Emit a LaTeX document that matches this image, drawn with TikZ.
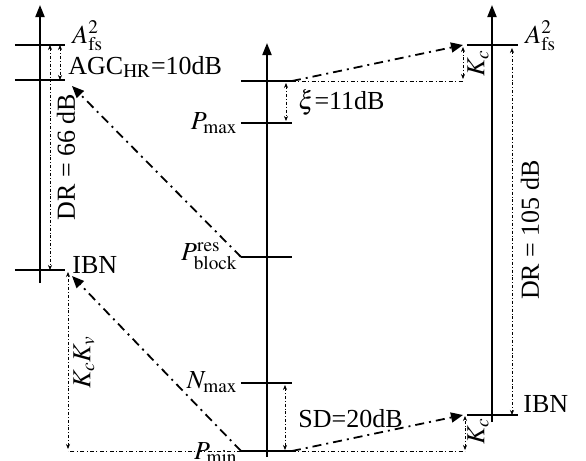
\documentclass[tikz,border=0pt]{standalone}
\usepackage{mathptmx}
\usepackage{fontspec}
\setmainfont{Liberation Serif}
\usetikzlibrary{arrows.meta}

\begin{document}
\begin{tikzpicture}[x=0.5pt, y=-0.5pt,
  axis/.style={line width=1pt, -{Triangle[length=6pt, width=4.5pt]}},
  tick/.style={line width=1pt},
  dim/.style={line width=0.35pt, dash pattern=on 1.5pt off 1pt on 0.4pt off 1pt,
              {Stealth[length=2.5pt, width=2pt]}-{Stealth[length=2.5pt, width=2pt]}},
  guide/.style={line width=0.35pt, dash pattern=on 2pt off 1.2pt on 0.5pt off 1.2pt},
  map/.style={line width=0.9pt, dash pattern=on 4.5pt off 2.5pt on 1pt off 2.5pt,
              -{Triangle[length=6pt, width=5pt]}},
  lbl/.style={font=\fontsize{13}{15}\selectfont, inner sep=0pt}
]
\useasboundingbox (0,0) rectangle (586,461);

% left axis
\coordinate (lbot) at (40,283);   \coordinate (ltop) at (40,5);
\coordinate (lfs-w) at (15,45);   \coordinate (lfs-e) at (65,45);
\coordinate (lagc-w) at (15,80);  \coordinate (lagc-e) at (65,80);
\coordinate (libn-w) at (15,270); \coordinate (libn-e) at (65,270);
% middle axis
\coordinate (mbot) at (267,457);  \coordinate (mtop) at (267,43);
\coordinate (mhi-w) at (241,81);  \coordinate (mhi-e) at (292,81);
\coordinate (pmax-w) at (241,123); \coordinate (pmax-e) at (292,123);
\coordinate (pblk-w) at (241,257); \coordinate (pblk-e) at (292,257);
\coordinate (nmax-w) at (241,383); \coordinate (nmax-e) at (292,383);
\coordinate (pmin-w) at (241,451); \coordinate (pmin-e) at (292,451);
% right axis
\coordinate (rbot) at (492,422);  \coordinate (rtop) at (492,5);
\coordinate (rfs-w) at (467,45);  \coordinate (rfs-e) at (518,45);
\coordinate (ribn-w) at (467,415); \coordinate (ribn-e) at (518,415);
% guide corners
\coordinate (kv) at (68,451);
\coordinate (kc1) at (463,81);
\coordinate (kc2) at (465,451);

\draw[axis] (lbot) -- (ltop);
\draw[axis] (mbot) -- (mtop);
\draw[axis] (rbot) -- (rtop);
\draw[tick] (lfs-w) -- (lfs-e);
\draw[tick] (lagc-w) -- (lagc-e);
\draw[tick] (libn-w) -- (libn-e);
\draw[tick] (mhi-w) -- (mhi-e);
\draw[tick] (pmax-w) -- (pmax-e);
\draw[tick] (pblk-w) -- (pblk-e);
\draw[tick] (nmax-w) -- (nmax-e);
\draw[tick] (pmin-w) -- (pmin-e);
\draw[tick] (rfs-w) -- (rfs-e);
\draw[tick] (ribn-w) -- (ribn-e);

\node[lbl, anchor=base west] (afsl) at (72,43) {$A_{\mathrm{fs}}^2$};
\node[lbl, anchor=base west] (agc) at (68,74) {AGC$_{\mathrm{HR}}$=10dB};
\node[lbl, rotate=90] (dr66) at (66,157) {DR = 66 dB};
\node[lbl, anchor=base west] (ibnl) at (72,273) {IBN};
\node[lbl, rotate=90] (kckv) at (84,362) {$K_cK_v$};
\node[lbl, anchor=east] (pmax) at (238,123) {$P_{\max}$};
\node[lbl, anchor=east] (pblock) at (238,256) {$P^{\mathrm{res}}_{\mathrm{block}}$};
\node[lbl, anchor=east] (nmax) at (238,382) {$N_{\max}$};
\node[lbl, anchor=east] (pmin) at (238,453) {$P_{\min}$};
\node[lbl, anchor=base west] (xi) at (298,109) {$\xi$=11dB};
\node[lbl, anchor=base west] (sd) at (298,427) {SD=20dB};
\node[lbl, rotate=90] (kctop) at (478,63) {$K_c$};
\node[lbl, rotate=90] (kcbot) at (478,431) {$K_c$};
\node[lbl, rotate=90] (dr105) at (530,230) {DR = 105 dB};
\node[lbl, anchor=base west] (afsr) at (525,43) {$A_{\mathrm{fs}}^2$};
\node[lbl, anchor=base west] (ibnr) at (523,412) {IBN};

% spans
\draw[dim] ([xshift=-2.5pt]lfs-e) -- ([xshift=-2.5pt]lagc-e);
\draw[dim] ([xshift=-7.5pt]lfs-e) -- ([xshift=-7.5pt]libn-e);
\draw[dim, shorten <=1pt, shorten >=1pt] ([xshift=-3pt]mhi-e) -- ([xshift=-3pt]pmax-e);
\draw[dim, shorten <=1pt, shorten >=0.5pt] ([xshift=-3.5pt]nmax-e) -- ([xshift=-3.5pt]pmin-e);
\draw[dim, shorten <=1pt, shorten >=1pt] (kv) -- (kv |- libn-e);
\draw[dim, shorten <=1pt, shorten >=1pt] (kc1) -- (kc1 |- rfs-w);
\draw[dim, shorten <=0.5pt, shorten >=0.5pt] (kc2) -- (kc2 |- ribn-w);
\draw[dim, shorten <=1.5pt] ([xshift=-3pt]rfs-e) -- ([xshift=-3pt]ribn-e);

% guides
\draw[guide] (mhi-e) -- (kc1);
\draw[guide] (pmin-e) -- (kc2);
\draw[guide] (pmin-w) -- (kv);

% mappings
\draw[map] (mhi-e) -- ([xshift=-2pt]rfs-w);
\draw[map] (pmin-e) -- ([xshift=-2pt]ribn-w);
\draw[map] (pmin-w) -- ([xshift=3.5pt, yshift=-3pt]libn-e);
\draw[map] (pblk-w) -- ([xshift=3.5pt, yshift=-3pt]lagc-e);
\end{tikzpicture}
\end{document}
